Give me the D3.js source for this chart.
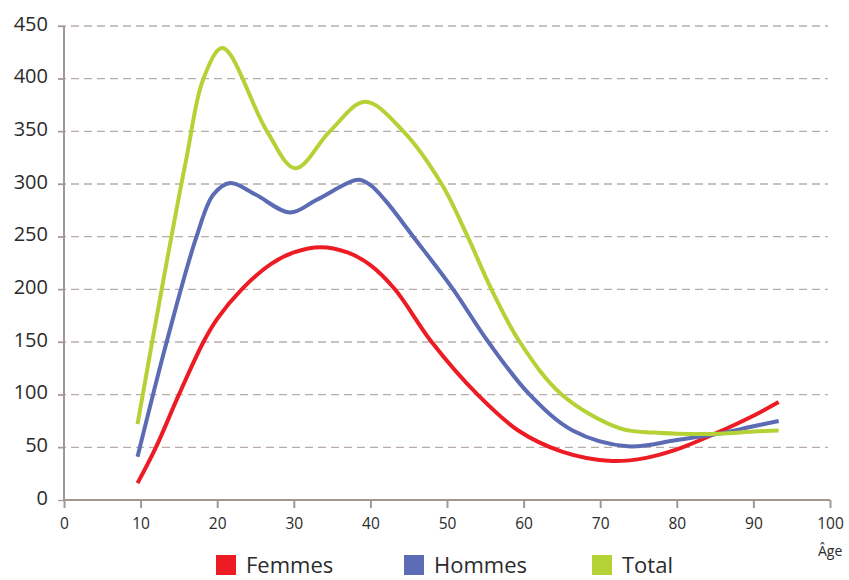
<!DOCTYPE html>
<html>
<head>
<meta charset="utf-8">
<script src="https://cdn.jsdelivr.net/npm/d3@7"></script>
<style>
  body { margin: 0; background: #fff; }
  svg text { font-family: "Open Sans", sans-serif; fill: #2b2b2b; }
</style>
</head>
<body>
<div class="chart"></div>
<script>
var svgWidth = 849;
var svgHeight = 580;

// [age, value]
var femmes = [[9.6,16],[12,50],[15,100],[18.2,150],[20,172],[23.2,200],[27,224],[30,235],[33.5,240],[37,235],[40,223],[43.2,200],[48,150],[54,100],[59.3,66],[65,46],[71.5,37],[76,40],[80,48],[85,63],[90,80],[93.3,93]];
var hommes = [[9.6,41],[13.4,150],[17.3,250],[19.5,290],[21.7,301],[25,290],[29.5,273],[33,285],[38.4,304],[40,299],[42,284],[45.6,250],[50.8,200],[55.4,150],[60.8,100],[66.4,66],[73.6,51],[80,57],[85.6,63],[90,70],[93.3,75]];
var total = [[9.6,72],[12.75,200],[16,325],[18.2,400],[20.7,429],[26.5,350],[30.2,315],[34.7,350],[39.3,378],[44.3,350],[49.3,300],[52.7,250],[55.8,200],[59.5,150],[65,100],[72.6,68],[77,64],[80,63],[85.6,63],[90,65],[93.3,66]];

var xTicks = [0,10,20,30,40,50,60,70,80,90,100];
var yTicks = [0,50,100,150,200,250,300,350,400,450];
var seriesNames = ["Femmes","Hommes","Total"];
var seriesColors = ["#ed1c24","#5b6bb4","#b4d235"];

var svg = d3.select(".chart")
  .append("svg")
  .attr("width", svgWidth)
  .attr("height", svgHeight);

var x = d3.scaleLinear().domain([0, 100]).range([64, 830]);
var y = d3.scaleLinear().domain([0, 450]).range([500, 26]);

var axisColor = "#a39794";

// dashed gridlines
svg.append("g").selectAll("line")
  .data(yTicks.filter(d => d > 0))
  .enter()
  .append("line")
  .attr("x1", 58)
  .attr("x2", 828)
  .attr("y1", d => y(d))
  .attr("y2", d => y(d))
  .attr("stroke", "#b8adaa")
  .attr("stroke-width", 1.3)
  .attr("stroke-dasharray", "8,5");

// y axis
var leftAxis = d3.axisLeft(y).tickValues(yTicks).tickSize(6).tickPadding(10);
var yAxis = svg.append("g")
  .attr("transform", `translate(${x(0)},0)`)
  .call(leftAxis);
yAxis.select(".domain").remove();
yAxis.selectAll(".tick line").attr("stroke", axisColor).attr("stroke-width", 1.3);
yAxis.selectAll(".tick text")
  .attr("font-size", "20px")
  .attr("dy", "0.2em")
  .attr("fill", "#2b2b2b");
svg.append("line")
  .attr("x1", x(0)).attr("x2", x(0))
  .attr("y1", y(450)).attr("y2", y(0))
  .attr("stroke", axisColor)
  .attr("stroke-width", 2);

// x axis
var bottomAxis = d3.axisBottom(x).tickValues(xTicks).tickSize(8).tickPadding(10);
var xAxis = svg.append("g")
  .attr("transform", `translate(0,${y(0)})`)
  .call(bottomAxis);
xAxis.select(".domain").attr("stroke", axisColor).attr("stroke-width", 2)
  .attr("d", `M${x(0)},0H${x(100)}`);
xAxis.selectAll(".tick line").attr("stroke", axisColor).attr("stroke-width", 2);
xAxis.selectAll(".tick text")
  .attr("font-size", "15.5px")
  .attr("fill", "#2b2b2b");

svg.append("text")
  .attr("x", 818)
  .attr("y", 556)
  .attr("font-size", "14px")
  .text("Âge");

// lines
var line = d3.line()
  .x(d => x(d[0]))
  .y(d => y(d[1]))
  .curve(d3.curveCatmullRom.alpha(0.5));

[femmes, hommes, total].forEach(function(data, i) {
  svg.append("path")
    .datum(data)
    .attr("fill", "none")
    .attr("stroke", seriesColors[i])
    .attr("stroke-width", 4)
    .attr("stroke-linejoin", "round")
    .attr("d", line);
});

// legend
var legendX = [216, 404, 592];
var legend = svg.append("g").selectAll("g")
  .data(seriesNames)
  .enter()
  .append("g")
  .attr("transform", (d, i) => `translate(${legendX[i]},555)`);
legend.append("rect")
  .attr("width", 20)
  .attr("height", 20)
  .attr("fill", (d, i) => seriesColors[i]);
legend.append("text")
  .attr("x", 30)
  .attr("y", 18)
  .attr("font-size", "22px")
  .text(d => d);
</script>
</body>
</html>
